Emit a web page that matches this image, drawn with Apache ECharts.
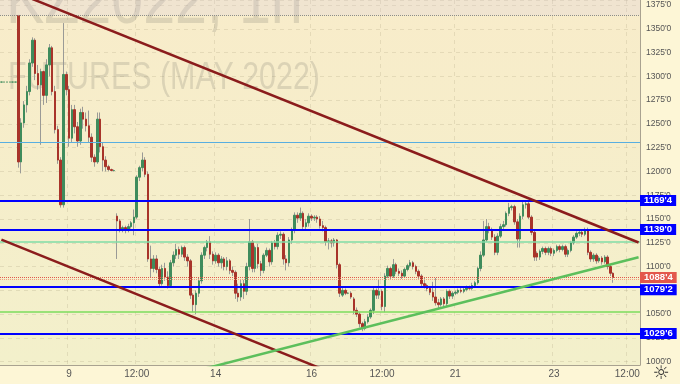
<!DOCTYPE html>
<html><head><meta charset="utf-8">
<script src="https://cdn.jsdelivr.net/npm/echarts/dist/echarts.min.js"></script>
<style>html,body{margin:0;padding:0;background:#fdf6d6;}#c{width:680px;height:384px;}</style>
</head><body><div id="c"></div>
<script>
// [open, close, low, high] hourly bars
const candles = [
[1294,1294,1294,1294],[1294,1294,1294,1294],[1294,1294,1294,1294],[1294,1294,1294,1294],[1294,1294,1294,1294],[1294,1294,1294,1294],
[1364,1210,1204,1364.5],[1210,1251,1198,1256],[1251,1270,1246,1274],[1270,1284,1262,1290],[1284,1314,1280,1318],[1314,1338,1310,1341],
[1338,1303,1296,1340],[1303,1291,1286,1312],[1291,1305,1228,1308],[1305,1280,1270,1306],[1280,1312,1272,1318],[1312,1330,1300,1334],
[1330,1284,1280,1332],[1284,1244,1240,1290],[1244,1212,1208,1248],[1212,1165,1162,1215],
[1165,1302,1162,1356],[1302,1286,1280,1305],[1286,1235,1226,1290],[1235,1265,1230,1270],[1265,1247,1240,1270],[1247,1232,1226,1252],
[1232,1262,1228,1266],[1262,1255,1245,1268],[1255,1248,1242,1262],[1248,1236,1230,1264],[1236,1215,1210,1240],[1215,1210,1205,1218],
[1210,1255,1208,1262],[1255,1226,1220,1262],[1226,1212,1200,1230],[1212,1205,1200,1216],[1205,1202,1200,1207],[1202,1201,1200,1203],[1201,1201,1200,1202],
[1153,1148,1108,1156],[1148,1139,1136,1150],[1139,1141,1136,1143],[1141,1138,1135,1143],[1138,1142,1136,1145],[1142,1146,1140,1148],
[1146,1152,1133,1160],[1152,1194,1150,1196],[1194,1204,1190,1206],[1204,1212,1200,1220],[1212,1197,1194,1215],[1197,1108,1105,1200],
[1108,1098,1088,1122],[1098,1108,1094,1112],[1108,1097,1093,1112],[1097,1082,1078,1100],[1082,1098,1080,1102],[1098,1089,1085,1104],
[1089,1080,1077,1095],[1080,1104,1078,1107],[1104,1112,1100,1116],[1112,1118,1108,1124],[1118,1113,1108,1121],[1113,1120,1110,1122],
[1120,1110,1106,1122],[1110,1106,1100,1113],
[1106,1070,1066,1108],[1070,1060,1052,1072],[1060,1072,1050,1075],[1072,1085,1068,1088],[1085,1112,1082,1115],[1112,1120,1108,1122],
[1120,1126,1116,1128],[1126,1113,1108,1132],[1113,1106,1102,1116],[1106,1112,1103,1115],[1112,1104,1100,1114],[1104,1108,1098,1111],
[1108,1100,1096,1110],[1100,1106,1096,1110],[1106,1096,1092,1108],[1096,1094,1090,1100],[1094,1072,1066,1096],[1072,1068,1063,1082],
[1068,1082,1064,1086],[1082,1074,1066,1086],[1074,1100,1070,1104],
[1100,1126,1096,1150],[1126,1098,1094,1128],[1098,1120,1094,1122],[1120,1103,1098,1124],[1103,1096,1090,1106],[1096,1112,1093,1114],
[1112,1117,1110,1120],[1117,1105,1100,1119],[1105,1125,1102,1127],[1125,1121,1118,1128],[1121,1133,1118,1136],[1133,1134,1129,1137],
[1134,1108,1102,1136],[1108,1104,1096,1112],[1104,1128,1100,1131],[1128,1138,1124,1141],[1138,1154,1135,1157],[1154,1151,1146,1157],
[1151,1156,1148,1162],[1156,1142,1138,1158],
[1142,1146,1138,1150],[1146,1153,1142,1156],[1153,1151,1148,1155],[1151,1152,1148,1154],[1152,1150,1146,1154],[1150,1143,1140,1153],
[1143,1141,1137,1148],[1141,1126,1122,1143],[1126,1127,1118,1130],[1127,1125,1120,1129],[1125,1128,1121,1130],[1128,1102,1098,1129],
[1102,1072,1068,1104],
[1070,1075,1068,1078],[1075,1072,1070,1077],[1072,1072,1071,1073],[1072,1068,1066,1074],[1066,1054,1050,1068],[1054,1050,1047,1057],
[1050,1040,1036,1052],[1040,1035,1032,1042],[1035,1042,1033,1045],[1042,1047,1040,1050],[1047,1054,1045,1056],[1054,1075,1050,1078],
[1075,1070,1066,1077],[1070,1074,1066,1086],[1074,1058,1054,1076],[1058,1090,1052,1093],[1090,1098,1088,1101],[1098,1090,1086,1100],
[1090,1102,1088,1108],[1102,1095,1092,1104],[1095,1093,1090,1098],[1093,1090,1087,1096],[1090,1097,1088,1099],[1097,1101,1095,1103],
[1101,1104,1099,1107],[1104,1100,1097,1106],[1100,1095,1092,1102],[1095,1090,1087,1097],[1090,1082,1079,1092],[1082,1080,1077,1088],
[1080,1077,1074,1082],[1077,1073,1070,1079],[1073,1068,1064,1084],[1068,1062,1059,1088],[1062,1060,1056,1066],[1060,1066,1058,1068],
[1066,1061,1057,1068],[1061,1074,1058,1076],[1074,1069,1066,1076],
[1069,1072,1066,1074],[1072,1073,1070,1075],[1073,1075,1071,1077],[1075,1074,1072,1078],[1074,1076,1072,1079],[1076,1078,1074,1080],
[1078,1077,1075,1080],[1077,1080,1075,1083],[1080,1083,1078,1085],[1083,1098,1081,1100],[1098,1112,1095,1116],[1112,1128,1110,1148],
[1128,1142,1126,1150],
[1142,1139,1135,1146],[1139,1131,1128,1141],[1131,1115,1112,1134],[1115,1132,1112,1135],[1132,1142,1130,1145],[1142,1144,1138,1148],
[1144,1156,1142,1158],[1156,1162,1153,1167],[1162,1163,1159,1165],[1163,1147,1144,1165],[1147,1129,1120,1150],[1129,1153,1120,1156],
[1153,1165,1150,1169],[1165,1166,1161,1170],[1166,1152,1150,1168],[1152,1136,1133,1154],[1136,1110,1106,1138],
[1114,1110,1106,1116],[1110,1116,1107,1118],[1116,1119,1113,1121],[1119,1115,1112,1121],[1115,1119,1112,1121],[1119,1114,1111,1121],
[1114,1117,1111,1119],[1117,1121,1115,1123],[1121,1118,1115,1123],[1118,1121,1116,1123],[1121,1113,1110,1123],[1113,1117,1110,1119],
[1117,1125,1115,1127],[1125,1131,1123,1133],[1131,1135,1129,1137],[1135,1136,1132,1139],[1136,1134,1131,1138],[1134,1139,1132,1141],
[1139,1115,1112,1141],[1115,1108,1105,1117],[1108,1112,1105,1114],[1112,1106,1103,1114],[1106,1109,1104,1111],[1109,1105,1102,1111],
[1105,1110,1103,1112],[1110,1100,1097,1112],[1100,1093,1090,1102],[1093,1088.5,1083,1094]
];
const categoryCount = 227;
const timeTicks = [[24,'9'],[48,'12:00'],[76,'14'],[110,'16'],[135,'12:00'],[161,'21'],[196,'23'],[222,'12:00']];
const priceRange = [996.53, 1380.26];
const priceStep = 25;
const levelValues = [1230.5, 1169.5, 1139.0, 1126.0, 1079.25, 1052.0, 1029.75];
const currentPrice = candles[candles.length - 1][1];
const secondPriceLine = 1086.4;
const topBoundary = 1364.2;
const trendUpper = [[0, 1394.4], [226, 1125.3]];
const trendLower = [[0, 1128.4], [130, 972.9]];
const trendSupport = [[70, 991.1], [226, 1109.8]];
const watermark1 = 'KZ2022, 1h';
const watermark2 = 'FUTURES (MAY 2022)';

const FONT = '"Liberation Sans", Arial, sans-serif';
function fmt8(v) { const i = Math.floor(v + 1e-9); const e = Math.round((v - i) * 8); return i + "'" + e; }

const categories = Array.from({length: categoryCount}, (_, i) => String(i));
const tickMap = new Map(timeTicks);

const levelStyles = [
  {color: '#58aee0', width: 1, label: false},
  {color: '#0000ff', width: 2, label: true},
  {color: '#0000ff', width: 2, label: true},
  {color: '#7fdca6', width: 1.5, label: false},
  {color: '#0000ff', width: 2, label: true, offset: [0, 3.4]},
  {color: '#7ddd5c', width: 1.5, label: false},
  {color: '#0000ff', width: 2, label: true}
];

const levelMarks = levelValues.map((v, i) => {
  const s = levelStyles[i];
  return {
    yAxis: v,
    lineStyle: {color: s.color, width: s.width, type: 'solid'},
    label: s.label ? {
      show: true, position: 'end', distance: 0, formatter: fmt8(v),
      backgroundColor: '#0000ff', color: '#fff', fontFamily: FONT, fontSize: 9.5, fontWeight: 'bold',
      lineHeight: 9, padding: [1, 4, 1, 4], offset: s.offset || [0, 0]
    } : {show: false}
  };
});
levelMarks.push({
  yAxis: currentPrice,
  lineStyle: {color: '#e0584c', width: 1, type: 'dotted'},
  label: {show: true, position: 'end', distance: 0, formatter: fmt8(currentPrice),
    backgroundColor: '#e3584b', color: '#fff', fontFamily: FONT, fontSize: 9.5, fontWeight: 'bold',
    lineHeight: 9, padding: [1, 4, 1, 4]}
});
levelMarks.push({yAxis: secondPriceLine, lineStyle: {color: '#f0a080', width: 1, type: 'dotted'}, label: {show: false}});
levelMarks.push({yAxis: topBoundary, lineStyle: {color: '#8c8c8c', width: 1, type: 'dotted'}, label: {show: false}});

const chart = echarts.init(document.getElementById('c'), null, {renderer: 'canvas'});
chart.setOption({
  animation: false,
  backgroundColor: '#fdf6d6',
  grid: {
    left: 0, right: 40, top: 0, bottom: 19, containLabel: false, outerBoundsMode: 'none',
    show: true, borderWidth: 0,
    backgroundColor: {type: 'linear', x: 0, y: 0, x2: 0, y2: 1,
      colorStops: [{offset: 0, color: '#f8ecca'}, {offset: 1, color: '#f3f0cb'}]}
  },
  graphic: [
    {type: 'text', x: 6, y: 3.5, scaleX: 0.82, z: 1, silent: true,
      style: {text: watermark1, font: '70px ' + FONT, fill: 'rgba(125,120,110,0.22)', verticalAlign: 'middle', align: 'left'}},
    {type: 'text', x: 8, y: 78.7, scaleX: 0.8, z: 1, silent: true,
      style: {text: watermark2, font: '38px ' + FONT, fill: 'rgba(125,120,110,0.22)', verticalAlign: 'middle', align: 'left'}},
    {type: 'text', x: 661, y: 374, z: 10, silent: true,
      style: {text: '\u263C', font: '19px "DejaVu Sans"', fill: '#333', align: 'center', verticalAlign: 'middle'}}
  ],
  xAxis: {
    type: 'category', data: categories, boundaryGap: true,
    axisLine: {show: true, lineStyle: {color: '#a9a290', width: 1}},
    axisTick: {show: false},
    axisLabel: {
      interval: (idx) => tickMap.has(idx),
      formatter: (val, idx) => tickMap.get(Number(val)) || '',
      color: '#555', fontFamily: FONT, fontSize: 10, margin: 4
    },
    splitLine: {show: true, interval: (idx) => tickMap.has(idx),
      lineStyle: {color: 'rgba(130,120,90,0.16)', type: [4, 4], width: 1}}
  },
  yAxis: {
    type: 'value', position: 'right', scale: true,
    min: priceRange[0], max: priceRange[1], minInterval: priceStep, maxInterval: priceStep,
    axisLine: {show: true, lineStyle: {color: '#a9a290', width: 1}},
    axisTick: {show: false},
    axisLabel: {
      showMinLabel: false, showMaxLabel: false,
      formatter: (v) => (Math.abs(v % priceStep) < 1e-6 ? fmt8(v) : ''),
      color: '#555', fontFamily: FONT, fontSize: 8.5, margin: 6
    },
    splitLine: {show: true, lineStyle: {color: 'rgba(130,120,90,0.16)', type: [4, 4], width: 1}}
  },
  series: [
    {
      name: 'wicks', type: 'candlestick', silent: true, z: 2,
      data: candles.map(([o, c, l, h]) => [o, c, l, h]),
      barWidth: 1,
      itemStyle: {color: '#9a9a96', color0: '#9a9a96', borderColor: '#9a9a96', borderColor0: '#9a9a96', borderWidth: 1}
    },
    {
      name: 'bodies', type: 'candlestick', silent: true, z: 3,
      data: candles.map(([o, c]) => [o, c, Math.min(o, c), Math.max(o, c)]),
      barWidth: 2,
      itemStyle: {color: '#3f8c5c', color0: '#a8342a', borderColor: '#3f8c5c', borderColor0: '#a8342a', borderWidth: 1}
    },
    {
      name: 'levels', type: 'line', data: [], z: 5, silent: true,
      markLine: {symbol: 'none', silent: true, animation: false, precision: 4, data: levelMarks},
      markArea: {silent: true, itemStyle: {color: 'rgba(215,200,230,0.22)'},
        data: [[{yAxis: topBoundary}, {yAxis: priceRange[1]}]]}
    },
    {name: 'upper', type: 'line', data: trendUpper, showSymbol: false, silent: true, z: 6,
      lineStyle: {color: '#8b1c1c', width: 2.5}},
    {name: 'lower', type: 'line', data: trendLower, showSymbol: false, silent: true, z: 6,
      lineStyle: {color: '#8b1c1c', width: 2.5}},
    {name: 'support', type: 'line', data: trendSupport, showSymbol: false, silent: true, z: 6,
      lineStyle: {color: '#5cbf5c', width: 2.5}}
  ]
});
</script>
</body></html>
